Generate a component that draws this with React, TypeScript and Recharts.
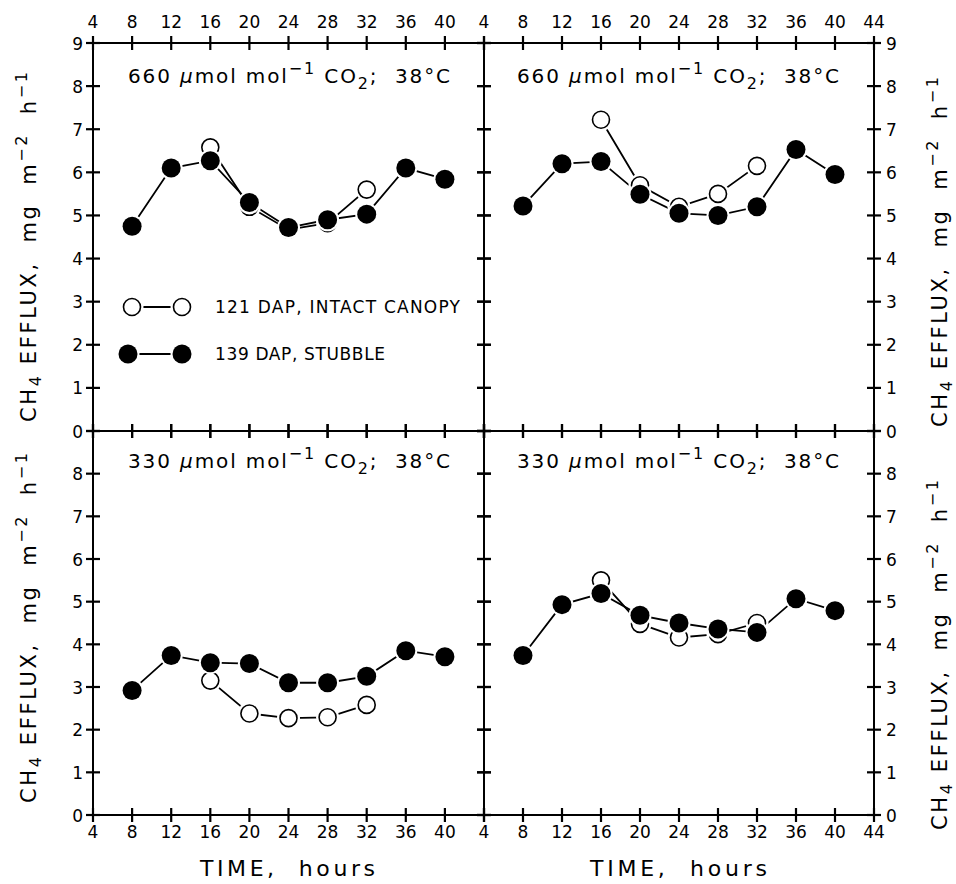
import React from 'react'
import { LineChart, Line, XAxis, YAxis } from 'recharts'

// hours of day, x axis
const hours = [8, 12, 16, 20, 24, 28, 32, 36, 40]
const canopyHours = [16, 20, 24, 28, 32]
const xTicks = [4, 8, 12, 16, 20, 24, 28, 32, 36, 40, 44]
const yTicks = [0, 1, 2, 3, 4, 5, 6, 7, 8, 9]

// CH4 efflux, mg m-2 h-1 (139 DAP stubble = filled, 121 DAP intact canopy = open)
const stubbleTL = [4.75, 6.1, 6.27, 5.3, 4.72, 4.9, 5.03, 6.1, 5.84]
const canopyTL = [6.58, 5.2, 4.67, 4.82, 5.6]
const stubbleTR = [5.22, 6.2, 6.25, 5.49, 5.05, 5.0, 5.2, 6.53, 5.95]
const canopyTR = [7.22, 5.7, 5.2, 5.5, 6.15]
const stubbleBL = [2.92, 3.74, 3.57, 3.55, 3.1, 3.1, 3.25, 3.85, 3.71]
const canopyBL = [3.15, 2.38, 2.27, 2.29, 2.58]
const stubbleBR = [3.74, 4.93, 5.19, 4.68, 4.5, 4.36, 4.28, 5.07, 4.79]
const canopyBR = [5.5, 4.48, 4.16, 4.24, 4.5]

const FONT = '"DejaVu Sans", "Liberation Sans", sans-serif'
const PX = 60
const PY = 40
const HALF = 7 // half tick length, ticks cross the frame

const rows = (xs: number[], ys: number[]) => xs.map((t, i) => ({ t, v: ys[i] }))

const FilledDot = (p: any) => (
  <g key={`f${p.index}`}>
    <circle cx={p.cx} cy={p.cy} r={11.5} fill="#fff" />
    <circle cx={p.cx} cy={p.cy} r={9.5} fill="#000" />
  </g>
)

const OpenDot = (p: any) => (
  <g key={`o${p.index}`}>
    <circle cx={p.cx} cy={p.cy} r={11.5} fill="#fff" />
    <circle cx={p.cx} cy={p.cy} r={8.5} fill="#fff" stroke="#000" strokeWidth={1.6} />
  </g>
)

type Show = (v: number) => boolean
const none: Show = () => false

// tickSize and tickMargin are 0, so props.x / props.y sit on the frame
const xTick = (side: 'top' | 'bottom', show: Show) => (props: any) => {
  const x = Number(props.x)
  const y = Number(props.y)
  const v = props.payload.value
  if (!show(v)) return <g />
  return (
    <text x={x} y={side === 'top' ? y - 15 : y + 23} textAnchor="middle" fontSize={17} fontFamily={FONT} fill="#000">
      {v}
    </text>
  )
}

const yTick = (side: 'left' | 'right', show: Show) => (props: any) => {
  const x = Number(props.x)
  const y = Number(props.y)
  const v = props.payload.value
  if (!show(v)) return <g />
  return (
    <text
      x={side === 'left' ? x - 10 : x + 12}
      y={y + 6.5}
      textAnchor={side === 'left' ? 'end' : 'start'}
      fontSize={17}
      fontFamily={FONT}
      fill="#000"
    >
      {v}
    </text>
  )
}

interface PanelProps {
  left: number
  top: number
  w: number
  h: number
  stubble: number[]
  canopy: number[]
  showTop?: Show
  showBottom?: Show
  showLeft?: Show
  showRight?: Show
}

function Panel({ left, top, w, h, stubble, canopy, showTop = none, showBottom = none, showLeft = none, showRight = none }: PanelProps) {
  const axisLine = { stroke: '#000', strokeWidth: 2 }
  const stubbleRows = rows(hours, stubble)
  return (
    <div style={{ position: 'absolute', left: left - PX, top: top - PY }}>
      <LineChart width={w + 2 * PX} height={h + 2 * PY} margin={{ top: 0, right: 0, bottom: 0, left: 0 }}>
        <XAxis xAxisId="top" orientation="top" type="number" dataKey="t" domain={[4, 44]} ticks={xTicks} interval={0}
          height={PY} tickSize={0} tickMargin={0} axisLine={axisLine} tickLine={false}
          tick={xTick('top', showTop)} />
        <XAxis xAxisId="bottom" orientation="bottom" type="number" dataKey="t" domain={[4, 44]} ticks={xTicks} interval={0}
          height={PY} tickSize={0} tickMargin={0} axisLine={axisLine} tickLine={false}
          tick={xTick('bottom', showBottom)} />
        <YAxis yAxisId="left" orientation="left" type="number" domain={[0, 9]} ticks={yTicks} interval={0}
          width={PX} tickSize={0} tickMargin={0} axisLine={axisLine} tickLine={false}
          tick={yTick('left', showLeft)} />
        <YAxis yAxisId="right" orientation="right" type="number" domain={[0, 9]} ticks={yTicks} interval={0}
          width={PX} tickSize={0} tickMargin={0} axisLine={axisLine} tickLine={false}
          tick={yTick('right', showRight)} />
        {/* invisible copy so the top and right axes get a scale */}
        <Line xAxisId="top" yAxisId="right" data={stubbleRows} dataKey="v" stroke="none" dot={false} activeDot={false}
          legendType="none" isAnimationActive={false} />
        <Line xAxisId="bottom" yAxisId="left" data={rows(canopyHours, canopy)} dataKey="v" stroke="#000" strokeWidth={1.8}
          dot={OpenDot} activeDot={false} isAnimationActive={false} />
        <Line xAxisId="bottom" yAxisId="left" data={stubbleRows} dataKey="v" stroke="#000" strokeWidth={1.8}
          dot={FilledDot} activeDot={false} isAnimationActive={false} />
      </LineChart>
    </div>
  )
}

// crossing tick marks on the four sides of a panel frame
function FrameTicks({ left, top, w, h }: { left: number; top: number; w: number; h: number }) {
  const sx = (t: number) => left + ((t - 4) / 40) * w
  const sy = (v: number) => top + h - (v / 9) * h
  const st = { stroke: '#000', strokeWidth: 2.2 }
  return (
    <g>
      {xTicks.map((t) => (
        <g key={`x${t}`}>
          <line x1={sx(t)} x2={sx(t)} y1={top - HALF} y2={top + HALF} {...st} />
          <line x1={sx(t)} x2={sx(t)} y1={top + h - HALF} y2={top + h + HALF} {...st} />
        </g>
      ))}
      {yTicks.map((v) => (
        <g key={`y${v}`}>
          <line x1={left - HALF} x2={left + HALF} y1={sy(v)} y2={sy(v)} {...st} />
          <line x1={left + w - HALF} x2={left + w + HALF} y1={sy(v)} y2={sy(v)} {...st} />
        </g>
      ))}
    </g>
  )
}

const Conc = ({ x, y, ppm }: { x: number; y: number; ppm: string }) => (
  <text x={x} y={y} fontSize={20} fontFamily={FONT} fill="#000" textLength={322} lengthAdjust="spacing" style={{ whiteSpace: 'pre' }}>
    {ppm + ' '}
    <tspan fontStyle="italic">μ</tspan>
    <tspan>mol mol</tspan>
    <tspan dy={-9} fontSize={16}>−1</tspan>
    <tspan dy={9}> CO</tspan>
    <tspan dy={6} fontSize={16}>2</tspan>
    <tspan dy={-6}>;  38°C</tspan>
  </text>
)

const YTitle = ({ x, y }: { x: number; y: number }) => (
  <text transform={`translate(${x},${y}) rotate(-90)`} textAnchor="middle" fontSize={21} fontFamily={FONT} fill="#000"
    textLength={350} lengthAdjust="spacing" style={{ whiteSpace: 'pre' }}>
    CH
    <tspan dy={5} fontSize={16}>4</tspan>
    <tspan dy={-5}> EFFLUX,  mg  m</tspan>
    <tspan dy={-9} fontSize={16}>−2</tspan>
    <tspan dy={9}>  h</tspan>
    <tspan dy={-9} fontSize={16}>−1</tspan>
  </text>
)

export default function App() {
  const L = 93
  const M = 484
  const R = 874
  const T = 43
  const MID = 431
  const B = 815
  const upTo40: Show = (v) => v <= 40
  const all: Show = () => true
  const upTo8: Show = (v) => v <= 8
  const frames = [
    { left: L, top: T, w: M - L, h: MID - T },
    { left: M, top: T, w: R - M, h: MID - T },
    { left: L, top: MID, w: M - L, h: B - MID },
    { left: M, top: MID, w: R - M, h: B - MID },
  ]
  return (
    <div style={{ position: 'absolute', left: 0, top: 0, width: 956, height: 884, background: '#fff' }}>
      <Panel {...frames[0]} stubble={stubbleTL} canopy={canopyTL} showTop={upTo40} showLeft={all} />
      <Panel {...frames[1]} stubble={stubbleTR} canopy={canopyTR} showTop={all} showRight={all} />
      <Panel {...frames[2]} stubble={stubbleBL} canopy={canopyBL} showBottom={upTo40} showLeft={upTo8} />
      <Panel {...frames[3]} stubble={stubbleBR} canopy={canopyBR} showBottom={all} showRight={upTo8} />
      <svg width={956} height={884} style={{ position: 'absolute', left: 0, top: 0, pointerEvents: 'none' }}>
        {frames.map((f, i) => (
          <FrameTicks key={i} {...f} />
        ))}

        <Conc x={128} y={83} ppm="660" />
        <Conc x={517} y={83} ppm="660" />
        <Conc x={128} y={468} ppm="330" />
        <Conc x={517} y={468} ppm="330" />

        {/* legend */}
        <line x1={132} x2={182} y1={307} y2={307} stroke="#000" strokeWidth={1.8} />
        <OpenDot cx={132} cy={307} index={0} />
        <OpenDot cx={182} cy={307} index={1} />
        <text x={215} y={313} fontSize={17} fontFamily={FONT} fill="#000" textLength={245} lengthAdjust="spacing">121 DAP, INTACT CANOPY</text>
        <line x1={128} x2={182} y1={354} y2={354} stroke="#000" strokeWidth={1.8} />
        <FilledDot cx={128} cy={354} index={0} />
        <FilledDot cx={182} cy={354} index={1} />
        <text x={215} y={360} fontSize={17} fontFamily={FONT} fill="#000" textLength={170} lengthAdjust="spacing">139 DAP, STUBBLE</text>

        <YTitle x={36} y={247} />
        <YTitle x={36} y={628} />
        <YTitle x={947} y={252} />
        <YTitle x={947} y={655} />

        <text x={200} y={876} fontSize={22} fontFamily={FONT} fill="#000" textLength={175} lengthAdjust="spacing" style={{ whiteSpace: 'pre' }}>TIME,  hours</text>
        <text x={590} y={876} fontSize={22} fontFamily={FONT} fill="#000" textLength={177} lengthAdjust="spacing" style={{ whiteSpace: 'pre' }}>TIME,  hours</text>
      </svg>
    </div>
  )
}
